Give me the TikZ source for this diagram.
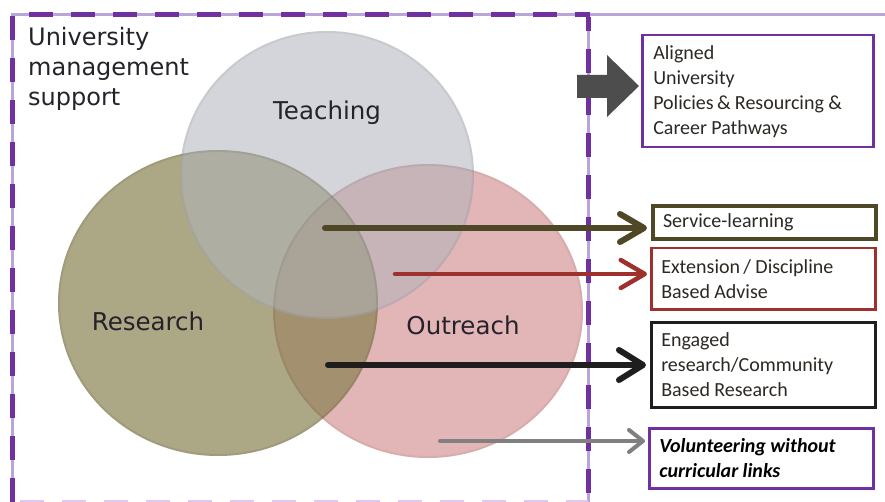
\documentclass[tikz,border=0pt]{standalone}
\usepackage{fontspec}
\setmainfont{DejaVu Sans}
\newfontfamily\boxfont{Carlito}
\usetikzlibrary{arrows.meta}
\definecolor{dpurple}{RGB}{112,48,160}
\definecolor{lav}{RGB}{185,165,215}
\definecolor{lavlight}{RGB}{228,198,242}
\definecolor{teachc}{RGB}{176,180,188}
\definecolor{resc}{RGB}{172,167,133}
\definecolor{outc}{RGB}{226,182,182}
\definecolor{rocol}{RGB}{162,144,110}
\definecolor{svcc}{RGB}{78,72,38}
\definecolor{extc}{RGB}{158,48,45}
\definecolor{engc}{RGB}{30,30,30}
\definecolor{volc}{RGB}{128,128,128}
\definecolor{blockc}{RGB}{77,77,77}
\definecolor{labc}{RGB}{38,34,44}
\definecolor{boxtext}{RGB}{45,40,35}
\begin{document}
\begin{tikzpicture}[x=1pt,y=-1pt,
  circlabel/.style={font=\fontsize{24.5}{29}\selectfont, text=labc, inner sep=0pt},
  rbox/.style={anchor=north west, font=\boxfont\fontsize{20}{25}\selectfont, align=left,
    inner xsep=10pt, inner ysep=0pt, text=boxtext,
    execute at begin node={\spaceskip=4.3pt plus 1pt minus 1pt\relax}},
  conn/.style={line cap=round}
]
\useasboundingbox (0,0) rectangle (885,502);
\fill[white] (0,0) rectangle (885,502);

% circles
\fill[resc] (218,303) ellipse [x radius=160, y radius=153];
\fill[outc] (428,311) ellipse [x radius=155, y radius=147];
\begin{scope}
  \clip (218,303) ellipse [x radius=160, y radius=153];
  \fill[rocol] (428,311) ellipse [x radius=155, y radius=147];
\end{scope}
\fill[teachc, fill opacity=0.55] (327,175) ellipse [x radius=147, y radius=144];
\draw[black, opacity=0.07, line width=2pt] (218,303) ellipse [x radius=159, y radius=152];
\draw[black, opacity=0.05, line width=2pt] (428,311) ellipse [x radius=154, y radius=146];
\draw[black, opacity=0.05, line width=2pt] (327,175) ellipse [x radius=146, y radius=143];

\node[circlabel] (teach) at (327,113) {Teaching};
\node[circlabel] (res) at (148,321) {Research};
\node[circlabel] (outr) at (463,325) {Outreach};

% dashed border
\draw[lav, line width=3pt] (12,502) -- (12,15) -- (885,15);
\draw[lav, line width=3pt] (588,15) -- (588,502);
\draw[dpurple, line width=5pt, dash pattern=on 24pt off 18pt] (12,502) -- (12,15) -- (590,15);
\draw[dpurple, line width=5pt, dash pattern=on 24pt off 18pt, dash phase=10pt] (588,17) -- (588,502);
\draw[lavlight, line width=5pt, dash pattern=on 24pt off 18pt] (20,502) -- (588,502);

\node[anchor=north west, inner sep=0pt, align=left, font=\fontsize{24}{30}\selectfont, text=labc] (ums) at (28,27)
  {University\\management\\support};

% boxes
\node[rbox, draw=dpurple, line width=2.5pt, text width=209pt, inner xsep=11pt, minimum height=112pt] (al) at (641,34)
  {Aligned\\University\\Policies\,\& Resourcing \&\\Career Pathways};
\node[rbox, draw=svcc, line width=4pt, text width=203pt, minimum height=33pt] (svc) at (651,204)
  {Service-learning};
\node[rbox, draw=extc, line width=2.5pt, text width=204pt, minimum height=61pt] (ext) at (650,247)
  {Extension\,/ Discipline\\Based Advise};
\node[rbox, draw=engc, line width=2.5pt, text width=204pt, minimum height=85pt] (eng) at (650,321)
  {Engaged\\research/Community\\Based Research};
\node[rbox, draw=dpurple, line width=2.5pt, text width=204pt, minimum height=60pt, text=black,
  font=\boxfont\fontsize{20}{25}\selectfont\bfseries\itshape] (vol) at (648,427)
  {Volunteering without\\curricular links};

% block arrow
\fill[blockc] (577,75) -- (607,75) -- (607,55) -- (639,86) -- (607,117) -- (607,98) -- (577,98) -- cycle;

% arrows
\coordinate (s1) at (325,228);
\coordinate (s2) at (395,274);
\coordinate (s3) at (328,365);
\coordinate (s4) at (440,441);
\draw[conn, svcc, line width=6pt, -{Straight Barb[length=24pt, width=28pt, round]}, shorten >=4pt] (s1) -- (s1 -| svc.west);
\draw[conn, extc, line width=4.5pt, -{Straight Barb[length=24pt, width=28pt, round]}, shorten >=3pt] (s2) -- (s2 -| ext.west);
\draw[conn, engc, line width=6pt, -{Straight Barb[length=24pt, width=30pt, round]}, shorten >=4pt] (s3) -- (s3 -| eng.west);
\draw[conn, volc, line width=4pt, -{Straight Barb[length=14pt, width=22pt, round]}, shorten >=3pt] (s4) -- (s4 -| vol.west);
\end{tikzpicture}
\end{document}
